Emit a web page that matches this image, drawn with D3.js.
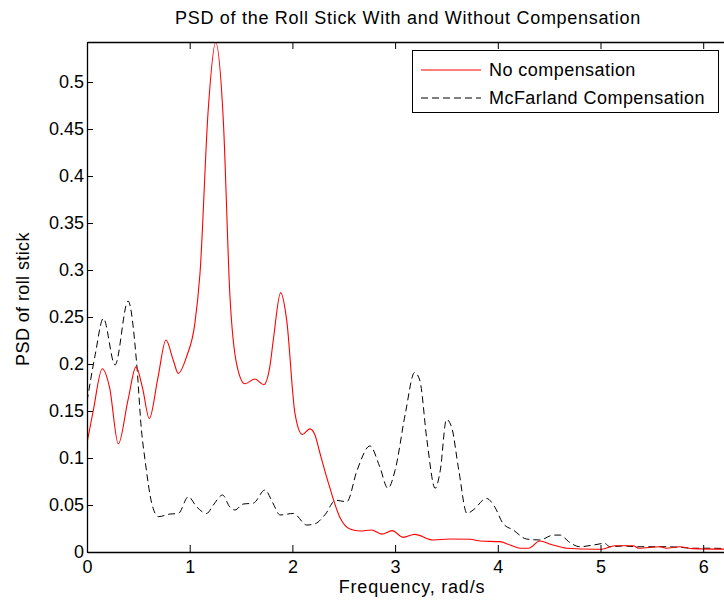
<!DOCTYPE html>
<html>
<head>
<meta charset="utf-8">
<script src="https://cdn.jsdelivr.net/npm/d3@7"></script>
<style>
  body { margin: 0; background: #fff; }
  svg { display: block; font-family: "Liberation Sans", Arial, sans-serif; }
</style>
</head>
<body>
<div id="chart"></div>
<script>
// frequency (rad/s) and PSD values
var noCompFreq = [0.0, 0.06, 0.149, 0.22, 0.305, 0.40, 0.477, 0.54, 0.607, 0.69, 0.769, 0.84, 0.889, 0.97, 1.05, 1.10, 1.18, 1.253, 1.327, 1.392, 1.457, 1.538, 1.636, 1.72, 1.78, 1.814, 1.886, 1.944, 2.025, 2.097, 2.17, 2.22, 2.26, 2.36, 2.464, 2.56, 2.66, 2.77, 2.87, 2.97, 3.08, 3.19, 3.37, 3.53, 3.73, 3.83, 4.02, 4.12, 4.22, 4.30, 4.41, 4.52, 4.67, 4.95, 5.01, 5.14, 5.32, 5.37, 5.58, 5.64, 5.77, 5.90, 6.3];
var noCompPsd  = [0.116, 0.15, 0.195, 0.175, 0.115, 0.162, 0.197, 0.175, 0.142, 0.185, 0.2255, 0.204, 0.190, 0.208, 0.243, 0.296, 0.470, 0.542, 0.460, 0.272, 0.200, 0.179, 0.184, 0.178, 0.197, 0.2255, 0.276, 0.247, 0.1475, 0.125, 0.131, 0.1245, 0.1085, 0.07, 0.0365, 0.0245, 0.0223, 0.0234, 0.019, 0.0227, 0.0156, 0.0188, 0.0128, 0.0138, 0.0135, 0.0117, 0.011, 0.0074, 0.004, 0.004, 0.0117, 0.008, 0.004, 0.0029, 0.003, 0.0067, 0.0067, 0.004, 0.0056, 0.004, 0.0056, 0.0036, 0.003];

var mcfFreq = [0.0, 0.08, 0.159, 0.273, 0.40, 0.484, 0.53, 0.565, 0.63, 0.695, 0.808, 0.889, 0.987, 1.068, 1.165, 1.23, 1.32, 1.39, 1.44, 1.52, 1.62, 1.733, 1.81, 1.88, 2.01, 2.14, 2.22, 2.32, 2.42, 2.53, 2.63, 2.755, 2.85, 2.93, 3.0, 3.10, 3.19, 3.24, 3.31, 3.39, 3.44, 3.50, 3.55, 3.62, 3.70, 3.76, 3.89, 3.97, 4.05, 4.15, 4.28, 4.41, 4.54, 4.61, 4.69, 4.80, 4.93, 5.04, 5.09, 5.22, 5.35, 5.51, 5.64, 5.77, 5.90, 6.10, 6.3];
var mcfPsd  = [0.160, 0.21, 0.2485, 0.199, 0.267, 0.20, 0.13, 0.098, 0.052, 0.0376, 0.0404, 0.041, 0.0588, 0.048, 0.041, 0.05, 0.0606, 0.048, 0.0447, 0.051, 0.052, 0.066, 0.052, 0.0394, 0.041, 0.0287, 0.03, 0.04, 0.055, 0.0535, 0.087, 0.1128, 0.0908, 0.0678, 0.087, 0.1475, 0.191, 0.183, 0.119, 0.0678, 0.087, 0.141, 0.133, 0.087, 0.041, 0.0447, 0.057, 0.048, 0.0305, 0.0234, 0.0138, 0.0128, 0.018, 0.018, 0.011, 0.0056, 0.0074, 0.0092, 0.0056, 0.0064, 0.0056, 0.0056, 0.0056, 0.005, 0.004, 0.004, 0.003];

var xTicks = [0, 1, 2, 3, 4, 5, 6];
var yTicks = [0, 0.05, 0.1, 0.15, 0.2, 0.25, 0.3, 0.35, 0.4, 0.45, 0.5];
var seriesNames = ["No compensation", "McFarland Compensation"];

var svgWidth = 724;
var svgHeight = 608;

var margin = { top: 42, left: 87, bottom: 56 };
var plotHeight = svgHeight - margin.top - margin.bottom;   // 510
var xMax = 6.3;
var plotWidth = 102.7 * xMax;

var svg = d3.select("#chart")
  .append("svg")
    .attr("width", svgWidth)
    .attr("height", svgHeight);

var g = svg.append("g")
  .attr("transform", `translate(${margin.left}, ${margin.top})`);

var x = d3.scaleLinear().domain([0, xMax]).range([0, plotWidth]);
var y = d3.scaleLinear().domain([0, 0.5426]).range([plotHeight, 0]);

// data lines, clipped to the axes
svg.append("clipPath").attr("id", "clip")
  .append("rect").attr("width", plotWidth).attr("height", plotHeight);

var line = d3.line()
  .x(d => x(d[0]))
  .y(d => y(d[1]))
  .curve(d3.curveMonotoneX);

var redData = noCompFreq.map((f, i) => [f, noCompPsd[i]]);
var blackData = mcfFreq.map((f, i) => [f, mcfPsd[i]]);

var lines = g.append("g").attr("clip-path", "url(#clip)");
lines.append("path")
  .datum(blackData)
  .attr("d", line)
  .attr("fill", "none")
  .attr("stroke", "#000")
  .attr("stroke-width", 1)
  .attr("stroke-dasharray", "7,4");
lines.append("path")
  .datum(redData)
  .attr("d", line)
  .attr("fill", "none")
  .attr("stroke", "#ff0000")
  .attr("stroke-width", 1.1);

// axes, matlab style: ticks pointing in, box on top
var bottomAxis = d3.axisBottom(x).tickValues(xTicks).tickSizeInner(-7).tickSizeOuter(0).tickPadding(8).tickFormat(d3.format("d"));
var topAxis = d3.axisTop(x).tickValues(xTicks).tickSizeInner(-7).tickSizeOuter(0).tickFormat("");
var leftAxis = d3.axisLeft(y).tickValues(yTicks).tickSizeInner(-6).tickSizeOuter(0).tickPadding(3).tickFormat(d => d3.format("")(+d.toFixed(2)));

var xAxisG = g.append("g").attr("transform", `translate(0, ${plotHeight})`).call(bottomAxis);
var topAxisG = g.append("g").call(topAxis);
var yAxisG = g.append("g").call(leftAxis);

[xAxisG, topAxisG, yAxisG].forEach(function(a) {
  a.select(".domain").attr("stroke", "#000").attr("stroke-width", 1.3);
  a.selectAll(".tick line").attr("stroke", "#000");
  a.selectAll("text").attr("fill", "#000").style("font-size", "18px").style("font-family", "Liberation Sans, Arial, sans-serif");
});

// title and labels
svg.append("text")
  .attr("x", 408)
  .attr("y", 24)
  .attr("text-anchor", "middle")
  .style("font-size", "18px")
  .style("letter-spacing", "0.7px")
  .text("PSD of the Roll Stick With and Without Compensation");

svg.append("text")
  .attr("x", 412)
  .attr("y", 593)
  .attr("text-anchor", "middle")
  .style("font-size", "18px")
  .style("letter-spacing", "0.8px")
  .text("Frequency, rad/s");

svg.append("text")
  .attr("transform", "translate(29, 299) rotate(-90)")
  .attr("text-anchor", "middle")
  .style("font-size", "18px")
  .style("letter-spacing", "0.4px")
  .text("PSD of roll stick");

// legend
var legend = svg.append("g");
legend.append("rect")
  .attr("x", 412.5)
  .attr("y", 50.5)
  .attr("width", 306)
  .attr("height", 62)
  .attr("fill", "#fff")
  .attr("stroke", "#000")
  .attr("stroke-width", 1);

var legendStyles = [
  { color: "#ff0000", dash: null },
  { color: "#000", dash: "7,4" }
];
seriesNames.forEach(function(name, i) {
  var ly = 70 + i * 28;
  legend.append("line")
    .attr("x1", 421).attr("x2", 481)
    .attr("y1", ly).attr("y2", ly)
    .attr("stroke", legendStyles[i].color)
    .attr("stroke-width", 1.1)
    .attr("stroke-dasharray", legendStyles[i].dash);
  legend.append("text")
    .attr("x", 489)
    .attr("y", ly + 6)
    .style("font-size", "18px")
    .style("letter-spacing", "0.45px")
    .text(name);
});
</script>
</body>
</html>
